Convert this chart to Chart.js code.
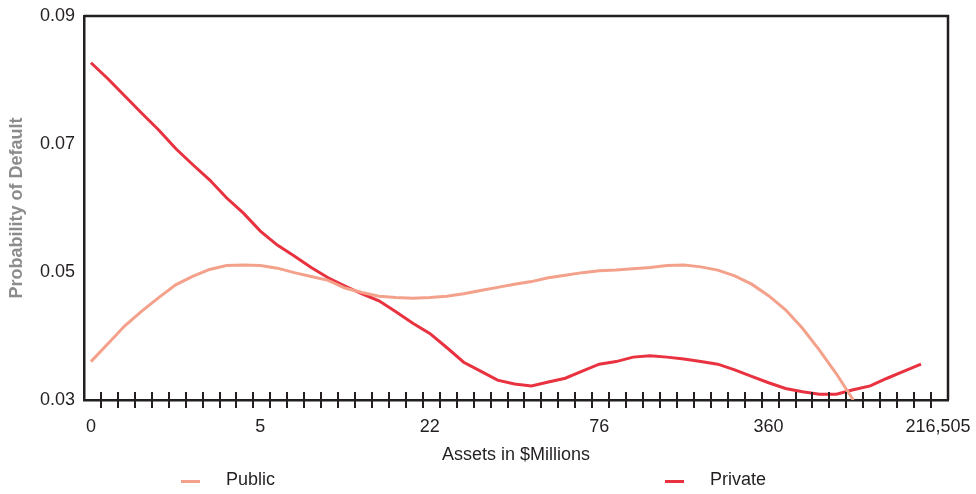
<!DOCTYPE html>
<html>
<head>
<meta charset="utf-8">
<script src="https://cdn.jsdelivr.net/npm/chart.js@4.4.1/dist/chart.umd.min.js"></script>
<style>
  html, body { margin: 0; padding: 0; background: #fff; }
  #wrap { position: relative; width: 976px; height: 494px; }
  .lg { position: absolute; top: 469px; height: 24px; line-height: 24px;
        font: 18px "Liberation Sans Narrow", "Arial Narrow", "Liberation Sans", sans-serif; color: #231f20; }
  .lg i { position: absolute; top: 11px; width: 19px; height: 3px; }
  .lg span { position: absolute; white-space: nowrap; }
</style>
</head>
<body>
<div id="wrap">
  <canvas id="pd" width="976" height="494"></canvas>
  <div class="lg" style="left:181px"><i style="left:0;background:#f4a18b"></i><span style="left:45px">Public</span></div>
  <div class="lg" style="left:665px"><i style="left:0;background:#e8323f"></i><span style="left:45px">Private</span></div>
</div>
<script>
// tick labels on the asset axis and where they sit (point index)
const assetLabels = ['0', '5', '22', '76', '360', '216,505'];
const assetLabelAt = [0, 10, 20, 30, 40, 50];

// probability of default, one value per asset bucket
const publicPd = [
  0.0360, 0.0388, 0.0416, 0.0439, 0.0460, 0.0480, 0.0493, 0.0504, 0.0510, 0.0511,
  0.0510, 0.0506, 0.0499, 0.0493, 0.0487, 0.0475, 0.0468, 0.0462, 0.0460, 0.0459,
  0.0460, 0.0462, 0.0466, 0.0471, 0.0476, 0.0481, 0.0485, 0.0491, 0.0495, 0.0499,
  0.0502, 0.0503, 0.0505, 0.0507, 0.0510, 0.0511, 0.0508, 0.0503, 0.0494, 0.0481,
  0.0463, 0.0441, 0.0412, 0.0378, 0.0341, 0.0300
];
const privatePd = [
  0.0827, 0.0802, 0.0775, 0.0748, 0.0722, 0.0693, 0.0668, 0.0644, 0.0616, 0.0592,
  0.0564, 0.0542, 0.0525, 0.0507, 0.0491, 0.0478, 0.0466, 0.0455, 0.0438, 0.0420,
  0.0404, 0.0382, 0.0359, 0.0345, 0.0331, 0.0325, 0.0322, 0.0328, 0.0334, 0.0345,
  0.0356, 0.0360, 0.0367, 0.0369, 0.0367, 0.0364, 0.0360, 0.0356, 0.0347, 0.0337,
  0.0327, 0.0318, 0.0313, 0.0309, 0.0309, 0.0316, 0.0322, 0.0334, 0.0345, 0.0356
];

const ink = '#231f20';
const narrow = '"Liberation Sans Narrow", "Arial Narrow", "Liberation Sans", sans-serif';
const tickShift = -0.41; // minor ticks sit a little left of the points

// top/right frame and the little cross ticks along the bottom axis
const frameAndTicks = {
  id: 'frameAndTicks',
  afterDraw(chart) {
    const { ctx, chartArea: a, scales: { x } } = chart;
    ctx.save();
    ctx.strokeStyle = ink;
    ctx.lineWidth = 2.5;
    ctx.beginPath();
    ctx.moveTo(a.left, a.top);
    ctx.lineTo(a.right, a.top);
    ctx.lineTo(a.right, a.bottom);
    ctx.stroke();
    ctx.lineWidth = 2;
    ctx.beginPath();
    for (let k = 1; k <= 50; k++) {
      const px = Math.round(x.getPixelForValue(k + tickShift));
      ctx.moveTo(px, a.bottom - 8);
      ctx.lineTo(px, a.bottom + 8);
    }
    ctx.stroke();
    ctx.restore();
  }
};

const toPoints = arr => arr.map((v, i) => ({ x: i, y: v }));

new Chart(document.getElementById('pd'), {
  type: 'line',
  data: {
    datasets: [{
      label: 'Public',
      data: toPoints(publicPd),
      borderColor: '#f4a18b',
      borderWidth: 3,
      pointRadius: 0,
      tension: 0
    }, {
      label: 'Private',
      data: toPoints(privatePd),
      borderColor: '#e8323f',
      borderWidth: 3,
      pointRadius: 0,
      tension: 0
    }]
  },
  options: {
    responsive: false,
    animation: false,
    layout: { padding: { top: 16, right: 28, left: 0, bottom: 0 } },
    scales: {
      x: {
        type: 'linear',
        min: tickShift,
        max: 51 + tickShift,
        afterFit: s => { s.height = 94; s.paddingLeft = 0; s.paddingRight = 0; },
        afterBuildTicks: s => { s.ticks = assetLabelAt.map(v => ({ value: v })); },
        grid: { display: false, drawTicks: false },
        border: { display: true, color: ink, width: 2.5 },
        ticks: {
          autoSkip: false, maxRotation: 0, padding: 16,
          color: ink, font: { family: narrow, size: 18 },
          callback: (v, i) => assetLabels[i]
        },
        title: {
          display: true, text: 'Assets in $Millions', color: ink,
          font: { family: narrow, size: 18 },
          padding: { top: 0, bottom: 28 }
        }
      },
      y: {
        min: 0.03,
        max: 0.09,
        afterFit: s => { s.width = 84; s.paddingTop = 0; s.paddingBottom = 0; },
        grid: { display: false, drawTicks: false },
        border: { display: true, color: ink, width: 2.5 },
        ticks: {
          stepSize: 0.02, padding: 9,
          color: ink, font: { family: narrow, size: 18 },
          callback: v => v.toFixed(2)
        },
        title: {
          display: true, text: 'Probability of Default', color: '#8c8c8c',
          font: { family: narrow, size: 18, weight: 'bold' },
          padding: { top: 6, bottom: 0 }
        }
      }
    },
    plugins: {
      legend: { display: false },
      tooltip: { enabled: false }
    }
  },
  plugins: [frameAndTicks]
});
</script>
</body>
</html>
